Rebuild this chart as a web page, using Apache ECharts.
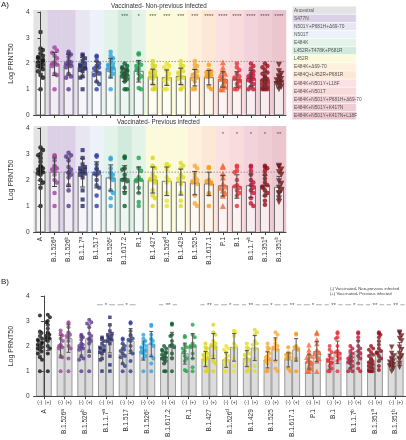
<!DOCTYPE html>
<html><head><meta charset="utf-8">
<script src="https://cdn.jsdelivr.net/npm/echarts@6/dist/echarts.min.js"></script>
<style>html,body{margin:0;padding:0;background:#fff}#c{width:406px;height:440px}</style>
</head><body><div id="c"></div>
<script>
// ---------------- DATA ----------------
const categories = ['A','B.1.526','B.1.526','B.1.1.7','B.1.517','B.1.526','B.1.617.2','R.1','B.1.427','B.1.526','B.1.429','B.1.525','B.1.617.1','P.1','B.1','B.1.1.7','B.1.351','B.1.351'];
const categorySup = ['','a','b','a','','c','','','','d','','','','','','b','a','b'];
const mutationLabels = ['Ancestral','S477N','N501Y+P681H+Δ69-70','N501T','E484K','L452R+T478K+P681R','L452R','E484K+Δ69-70','E484Q+L452R+P681R','E484K+N501Y+L18F','E484K+N501T','E484K+N501Y+P681H+Δ69-70','E484K+N501Y+K417N','E484K+N501Y+K417N+L18F'];
const yTicks = [0,1,2,3,4];

// Log PRNT50, vaccinated non-previously infected
const pointsNonPrev = [
  [3.22,2.58,2.52,2.4,2.3,2.25,2.2,2.15,2.1,2.05,2.0,1.95,1.9,1.85,1.78,1.7,1.55,1.45,1.0],
  [2.62,2.5,2.42,2.3,2.2,2.05,2.0,2.0,1.95,1.9,1.6,1.55,1.0],
  [2.45,2.4,2.35,2.25,2.1,2.05,2.0,1.95,1.9,1.85,1.6,1.5,1.45,1.0],
  [2.35,2.3,2.2,2.1,2.0,1.95,1.9,1.85,1.8,1.75,1.7,1.5,1.45,1.0],
  [2.3,2.25,2.1,2.0,1.9,1.85,1.8,1.7,1.6,1.55,1.3,1.2,1.0],
  [2.45,2.3,2.2,2.1,2.0,1.95,1.9,1.85,1.8,1.75,1.7,1.6,1.5,1.0],
  [2.0,1.9,1.85,1.8,1.75,1.7,1.65,1.6,1.55,1.5,1.45,1.4,1.3,1.0,1.0],
  [2.4,2.35,2.05,1.95,1.9,1.8,1.75,1.6,1.5,1.4,1.05,1.0],
  [2.1,1.95,1.9,1.8,1.7,1.65,1.6,1.55,1.5,1.45,1.4,1.2,1.1,1.0,1.0],
  [2.0,1.9,1.85,1.75,1.7,1.6,1.5,1.45,1.4,1.35,1.2,1.0,1.0],
  [2.1,1.95,1.9,1.8,1.7,1.65,1.6,1.5,1.45,1.4,1.2,1.1,1.0,1.0],
  [2.1,1.95,1.9,1.8,1.7,1.6,1.55,1.5,1.45,1.4,1.3,1.05,1.0,1.0],
  [1.95,1.75,1.7,1.65,1.6,1.55,1.5,1.5,1.1,1.0],
  [2.05,1.85,1.7,1.6,1.55,1.45,1.4,1.35,1.3,1.2,1.1,1.0,1.0],
  [2.0,1.85,1.75,1.6,1.5,1.45,1.4,1.35,1.3,1.2,1.1,1.0,1.0],
  [2.0,1.9,1.8,1.7,1.6,1.55,1.5,1.45,1.4,1.35,1.3,1.2,1.1,1.0,1.0],
  [2.0,1.9,1.85,1.75,1.65,1.6,1.5,1.45,1.4,1.35,1.3,1.25,1.2,1.15,1.1,1.05,1.0,1.0,1.0],
  [1.95,1.7,1.6,1.5,1.45,1.4,1.35,1.3,1.25,1.2,1.15,1.1,1.0]
];
// Log PRNT50, vaccinated previously infected
const pointsPrev = [
  [3.25,3.15,3.0,2.95,2.85,2.7,2.55,2.5,2.45,2.4,2.35,2.3,2.25,2.2,2.0,1.9,1.7,1.0],
  [2.95,2.9,2.75,2.55,2.5,2.45,2.4,2.35,2.2,2.0,1.9,1.5,1.0],
  [3.05,2.95,2.9,2.75,2.5,2.4,2.3,2.25,2.2,2.1,1.8,1.6,1.0],
  [3.15,2.85,2.6,2.5,2.45,2.4,2.35,2.3,2.25,2.2,2.1,1.6,1.25,1.0],
  [2.95,2.9,2.6,2.45,2.4,2.3,2.25,2.2,2.0,1.8,1.7,1.4,1.0],
  [2.85,2.8,2.45,2.3,2.25,2.2,2.1,2.0,1.6,1.5,1.3,1.0],
  [2.9,2.85,2.45,2.4,2.2,2.05,2.0,1.95,1.7,1.5,1.0],
  [2.85,2.45,2.35,2.1,2.0,2.0,1.95,1.7,1.5,1.15,1.0],
  [2.85,2.55,2.45,2.2,2.1,2.05,2.0,1.95,1.9,1.6,1.4,1.3,1.0],
  [2.6,2.6,2.55,2.4,2.1,2.0,1.9,1.5,1.2,1.0],
  [2.65,2.55,2.45,2.2,2.1,2.05,1.9,1.85,1.5,1.2,1.0],
  [2.55,2.45,2.25,2.1,2.0,1.95,1.9,1.85,1.4,1.1,1.0],
  [2.5,2.45,2.0,1.95,1.9,1.85,1.5,1.45,1.0],
  [2.55,2.5,2.25,2.1,1.85,1.75,1.7,1.6,1.5,1.4,1.0],
  [2.55,2.5,2.35,2.3,2.0,1.8,1.75,1.7,1.6,1.5,1.4,1.0],
  [2.55,2.5,2.35,2.2,2.0,1.9,1.8,1.7,1.6,1.5,1.3,1.1,1.0],
  [2.55,2.5,2.45,2.35,2.2,2.05,1.9,1.8,1.75,1.7,1.6,1.5,1.4,1.2,1.05],
  [2.55,2.5,2.4,2.3,2.2,1.95,1.85,1.7,1.6,1.5,1.45,1.3,1.15]
];
const meanNonPrev = [2.07,1.98,1.95,1.85,1.68,1.82,1.55,1.7,1.48,1.45,1.5,1.45,1.45,1.38,1.38,1.42,1.36,1.3];
const sdNonPrev   = [0.45,0.45,0.4,0.38,0.4,0.38,0.25,0.42,0.3,0.3,0.32,0.32,0.28,0.3,0.3,0.3,0.3,0.25];
const meanPrev = [2.32,2.3,2.3,2.28,2.2,2.08,2.05,2.0,2.0,1.95,1.92,1.88,1.85,1.78,1.75,1.78,1.78,1.72];
const sdPrev   = [0.5,0.55,0.55,0.55,0.5,0.5,0.5,0.5,0.5,0.55,0.5,0.45,0.45,0.4,0.45,0.45,0.4,0.42];
const refNonPrev = 2.08;
const refPrev = 2.3;
const starsNonPrev = ['','','','','','','***','*','***','***','***','***','****','****','****','****','****','****'];
const starsPrev = ['','','','','','','','','','','','','','*','*','*','*','**'];
const starsPair = ['','','','*','*','','**','','**','*','**','*','**','*','**','*','**','**'];

// ---------------- STYLE ----------------
const dotColors = ['#111111','#a3409f','#5b3893','#25296d','#2d3e98','#29a5de','#0b5b2d','#1fa548','#d9d51d','#ebe228','#e0da25','#f7a63a','#f79a18','#f26835','#e6323b','#c21434','#930c18','#6c1a1a'];
const dotSymbols = ['circle','circle','circle','rect','circle','circle','circle','circle','circle','circle','circle','circle','circle','triangle','circle','circle','circle','triangle'];
const dotRotate = [0,0,0,0,0,0,0,0,0,0,0,0,0,0,0,0,0,180];
const bandColors = ['#e3e3e3','#dbd0e5','#dbd0e5','#e8e6f2','#edf2fa','#e3f3ea','#d2eadb','#e3f3ea','#fbfbdc','#fbfbdc','#fbfbdc','#fef0dd','#fde7d5','#fbe1e1','#f9dbdb','#f2d3dc','#efcdd5','#ebc6cf'];
const legendColors = ['#e3e3e3','#dbd0e5','#e8e6f2','#edf2fa','#e3f3ea','#d2eadb','#fbfbdc','#fef0dd','#fde7d5','#fbe1e1','#f9dbdb','#f2d3dc','#efcdd5','#ebc6cf'];
const FONT = 'Liberation Sans, Arial, sans-serif';

const axisData = categories.map((c,i)=> c + '|' + categorySup[i] + '|' + i);
function labelFmt(v){ const p=v.split('|'); return p[1] ? p[0] + '{s|' + p[1] + '}' : p[0]; }

function swarm(vals, pxPerUnit, dot, maxOff){
  const placed=[]; const out=[];
  vals.forEach((v,idx)=>{
    const y=v*pxPerUnit; let best=null;
    for(let k=0;k<14;k++){
      const c = k===0?0:(k%2?1:-1)*Math.ceil(k/2)*dot*0.55;
      if(Math.abs(c)>maxOff) continue;
      if(placed.every(p=>Math.hypot(p[0]-c,p[1]-y)>=dot*0.75)){best=c;break;}
    }
    if(best===null){ best=((idx%3)-1)*maxOff*0.6; }
    placed.push([best,y]); out.push(best);
  });
  return out;
}

const W_TOP = 266/18, W_B = 390/18;
function scatterData(pointsList, pxPerUnit, dot, maxOff, catW, shift){
  const d=[];
  pointsList.forEach((vals,i)=>{
    const offs = swarm(vals, pxPerUnit, dot, maxOff);
    vals.forEach((v,k)=>{
      d.push({value:[i+shift+offs[k]/catW, v], symbol:dotSymbols[i], symbolRotate:dotRotate[i],
        symbolSize: dotSymbols[i]==='triangle'? dot+1.5 : (dotSymbols[i]==='rect'? dot-0.5 : dot),
        itemStyle:{color:dotColors[i]}});
    });
  });
  return d;
}

function bandSeries(xi, yi){
  return {type:'custom', xAxisIndex:xi, yAxisIndex:yi, silent:true, clip:false, z:1,
    data: categories.map((c,i)=>[i]),
    renderItem:(p,api)=>{ const i=api.value(0); const a=api.coord([i-0.5,4.08]); const b=api.coord([i+0.5,0]);
      return {type:'rect', z2:0, shape:{x:a[0],y:a[1],width:b[0]-a[0]+0.3,height:b[1]-a[1]}, style:{fill:bandColors[i]}}; }};
}
function barSeries(xi, yi, means, shift, halfW, fill, stroke){
  return {type:'custom', xAxisIndex:xi, yAxisIndex:yi, silent:true, z:2,
    data: means.map((m,i)=>[i+shift, m]),
    renderItem:(p,api)=>{ const t=api.coord([api.value(0), api.value(1)]); const b=api.coord([api.value(0), 0]);
      return {type:'rect', shape:{x:t[0]-halfW, y:t[1], width:2*halfW, height:b[1]-t[1]}, style:{fill:fill, stroke:stroke, lineWidth:1}}; }};
}
function errSeries(xi, yi, means, sds, shift, cap, color){
  return {type:'custom', xAxisIndex:xi, yAxisIndex:yi, silent:true, z:5,
    data: means.map((m,i)=>[i+shift, m, sds[i]]),
    renderItem:(p,api)=>{ const x=api.value(0), m=api.value(1), s=api.value(2);
      const t=api.coord([x,m+s]), b=api.coord([x,m-s]);
      const st={stroke:color, lineWidth:1};
      return {type:'group', children:[
        {type:'line', shape:{x1:t[0],y1:t[1],x2:b[0],y2:b[1]}, style:st},
        {type:'line', shape:{x1:t[0]-cap,y1:t[1],x2:t[0]+cap,y2:t[1]}, style:st},
        {type:'line', shape:{x1:b[0]-cap,y1:b[1],x2:b[0]+cap,y2:b[1]}, style:st}]}; }};
}
function starSeries(xi, yi, stars, yv){
  return {type:'custom', xAxisIndex:xi, yAxisIndex:yi, silent:true, z:6, clip:false,
    data: stars.map((s,i)=>[i, yv]),
    renderItem:(p,api)=>{ const i=api.value(0); const c=api.coord([i, api.value(1)]);
      return {type:'text', style:{text:stars[i], x:c[0], y:c[1], align:'center', verticalAlign:'middle', fontSize:6, fill:'#555', fontFamily:FONT}}; }};
}
function refLine(xi, yi, v){
  return {type:'custom', xAxisIndex:xi, yAxisIndex:yi, silent:true, z:3, data:[[v]],
    renderItem:(p,api)=>{ const a=api.coord([-0.5, api.value(0)]), b=api.coord([17.5, api.value(0)]);
      return {type:'line', shape:{x1:a[0],y1:a[1],x2:b[0],y2:b[1]}, style:{stroke:'#999', lineWidth:1, lineDash:[1.5,1.5]}}; }};
}

const yAxisBase = (gi)=>({gridIndex:gi, type:'value', min:0, max:4, interval:1, z:10,
  name:'Log PRNT50', nameLocation:'middle', nameGap:10, nameTextStyle:{fontSize:7, color:'#333', fontFamily:FONT},
  axisLine:{show:true, lineStyle:{color:'#444', width:1}}, axisTick:{show:true, length:3, lineStyle:{color:'#444'}},
  axisLabel:{fontSize:6.5, color:'#333', margin:4, fontFamily:FONT}, splitLine:{show:false}});
const catAxis = (gi, showLabel, margin)=>({gridIndex:gi, type:'category', data:axisData, z:10,
  axisLine:{lineStyle:{color:'#444', width:1}}, axisTick:{show:true, alignWithLabel:true, length:3, lineStyle:{color:'#444'}},
  axisLabel:{show:showLabel, rotate:90, interval:0, fontSize:6.5, color:'#333', margin:margin, fontFamily:FONT,
    formatter:labelFmt, rich:{s:{fontSize:4.5, color:'#333', padding:[0,0,4,0], fontFamily:FONT}}}});
const valAxis = (gi)=>({gridIndex:gi, type:'value', min:-0.5, max:17.5, show:false});

const legendGraphics = [];
mutationLabels.forEach((t,i)=>{
  legendGraphics.push({type:'rect', left:292, top:6+i*8.1, shape:{width:64, height:8.1}, style:{fill:legendColors[i], stroke:'#fff', lineWidth:0.5}});
  legendGraphics.push({type:'text', left:294, top:6+i*8.1+1.8, style:{text:t, fontSize:4.8, fill:'#555', fontFamily:FONT}});
});

const chart = echarts.init(document.getElementById('c'), null, {renderer:'canvas'});
chart.setOption({
  animation:false,
  backgroundColor:'#fff',
  textStyle:{fontFamily:FONT},
  grid:[
    {left:20, top:12, width:266, height:103},
    {left:20, top:128, width:266, height:104},
    {left:16, top:296, width:390, height:101}
  ],
  xAxis:[catAxis(0,false,4), valAxis(0), catAxis(1,true,5), valAxis(1), catAxis(2,true,13), valAxis(2)],
  yAxis:[yAxisBase(0), yAxisBase(1), yAxisBase(2)],
  graphic:[
    {type:'text', left:1, top:1, style:{text:'A)', fontSize:8, fill:'#222', fontFamily:FONT}},
    {type:'text', left:111, top:3, style:{text:'Vaccinated- Non-previous infected', fontSize:6.3, fill:'#333', fontFamily:FONT}},
    {type:'text', left:117, top:119.5, style:{text:'Vaccinated- Previous infected', fontSize:6.3, fill:'#333', fontFamily:FONT}},
    {type:'text', left:1, top:278, style:{text:'B)', fontSize:8, fill:'#222', fontFamily:FONT}},
    {type:'text', left:330, top:286.5, style:{text:'(-) Vaccinated- Non-previous infected', fontSize:4.2, fill:'#444', fontFamily:FONT}},
    {type:'text', left:330, top:291.5, style:{text:'(+) Vaccinated- Previous infected', fontSize:4.2, fill:'#444', fontFamily:FONT}}
  ].concat(legendGraphics),
  series:[
    // ---- panel A top ----
    bandSeries(1,0),
    barSeries(1,0,meanNonPrev,0,4.5,'rgba(255,255,255,0.6)','#6e6e6e'),
    refLine(1,0,refNonPrev),
    {type:'scatter', xAxisIndex:1, yAxisIndex:0, z:4, silent:true, data:scatterData(pointsNonPrev,25.75,4.6,4,W_TOP,0)},
    errSeries(1,0,meanNonPrev,sdNonPrev,0,2.5,'#444'),
    starSeries(1,0,starsNonPrev,3.82),
    // ---- panel A middle ----
    bandSeries(3,1),
    barSeries(3,1,meanPrev,0,4.5,'rgba(255,255,255,0.6)','#6e6e6e'),
    refLine(3,1,refPrev),
    {type:'scatter', xAxisIndex:3, yAxisIndex:1, z:4, silent:true, data:scatterData(pointsPrev,25.85,4.6,4,W_TOP,0)},
    errSeries(3,1,meanPrev,sdPrev,0,2.5,'#444'),
    starSeries(3,1,starsPrev,3.77),
    // ---- panel B ----
    barSeries(5,2,meanNonPrev,-0.19,3.5,'#dcdcdc','#9a9a9a'),
    barSeries(5,2,meanPrev,0.19,3.5,'#dcdcdc','#9a9a9a'),
    {type:'scatter', xAxisIndex:5, yAxisIndex:2, z:4, silent:true, data:scatterData(pointsNonPrev,25.25,4,2.8,W_B,-0.19)},
    {type:'scatter', xAxisIndex:5, yAxisIndex:2, z:4, silent:true, data:scatterData(pointsPrev,25.25,4,2.8,W_B,0.19)},
    errSeries(5,2,meanNonPrev,sdNonPrev,-0.19,2,'#555'),
    errSeries(5,2,meanPrev,sdPrev,0.19,2,'#555'),
    {type:'custom', xAxisIndex:5, yAxisIndex:2, silent:true, z:6, clip:false,
      data: starsPair.map((s,i)=>[i, 3.65]),
      renderItem:(p,api)=>{ const i=api.value(0); const s=starsPair[i]; if(!s) return null;
        const c=api.coord([i, api.value(1)]); const g=1.5+1.6*s.length; const st={stroke:'#999', lineWidth:0.8};
        return {type:'group', children:[
          {type:'line', shape:{x1:c[0]-9,y1:c[1],x2:c[0]-g,y2:c[1]}, style:st},
          {type:'line', shape:{x1:c[0]+g,y1:c[1],x2:c[0]+9,y2:c[1]}, style:st},
          {type:'text', style:{text:s, x:c[0], y:c[1]+1, align:'center', verticalAlign:'middle', fontSize:6, fill:'#555', fontFamily:FONT}}]}; }},
    {type:'custom', xAxisIndex:5, yAxisIndex:2, silent:true, z:6, clip:false,
      data: categories.map((c,i)=>[i, 0]),
      renderItem:(p,api)=>{ const i=api.value(0); const c=api.coord([i,0]);
        return {type:'group', children:[
          {type:'text', style:{text:'(-)', x:c[0]-4.1, y:c[1]+6.5, align:'center', verticalAlign:'middle', fontSize:5, fill:'#333', fontFamily:FONT}},
          {type:'text', style:{text:'(+)', x:c[0]+4.1, y:c[1]+6.5, align:'center', verticalAlign:'middle', fontSize:5, fill:'#333', fontFamily:FONT}}]}; }}
  ]
});
</script></body></html>
